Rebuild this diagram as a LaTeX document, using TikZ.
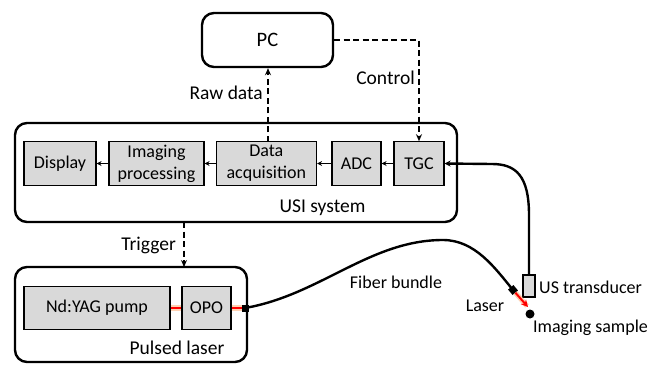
\documentclass[tikz,border=0pt]{standalone}
\usepackage{fontspec}
\setmainfont{Carlito}
\usetikzlibrary{arrows.meta,shapes.geometric}
\definecolor{boxgray}{HTML}{D9D9D9}
\definecolor{glow}{HTML}{FFB27F}
\tikzset{
  bigbox/.style={draw, line width=2.4pt, rounded corners=12pt},
  smallbox/.style={draw, fill=boxgray, line width=1.1pt, inner sep=0pt, align=center, font=\fontsize{18}{22}\selectfont},
  lbl/.style={font=\fontsize{19.5}{23}\selectfont, inner sep=0pt},
  slbl/.style={font=\fontsize{18}{22}\selectfont, inner sep=0pt},
  flow/.style={line width=1pt, -{Stealth[length=5pt,width=5pt]}},
  dashline/.style={line width=2pt, dash pattern=on 6pt off 3.5pt},
  cable/.style={line width=2.4pt},
  redbeam/.style={line width=2.2pt, red},
  glowbeam/.style={line width=6pt, glow, opacity=0.6},
}
\begin{document}
\begin{tikzpicture}[x=1pt,y=-1pt]
\useasboundingbox (0,0) rectangle (649,365);
% big boxes
\node[bigbox, minimum width=131pt, minimum height=54pt, font=\fontsize{20.5}{24}\selectfont] (pc) at (267.5,40) {PC};
\node[bigbox, minimum width=442pt, minimum height=99pt] (usi) at (236,172.5) {};
\node[bigbox, minimum width=232pt, minimum height=95pt] (pl) at (131,314.5) {};
\node[lbl, anchor=center] (usilbl) at (322.5,208) {USI system};
\node[lbl, anchor=center] (pllbl) at (177,348) {Pulsed laser};
% small boxes
\node[smallbox, minimum width=72pt, minimum height=43.5pt] (disp) at (60,163.5) {Display};
\node[smallbox, minimum width=95pt, minimum height=43.5pt] (imp) at (156.5,163.5) {Imaging\\processing};
\node[smallbox, minimum width=100.5pt, minimum height=43.5pt] (daq) at (266.3,163.5) {Data\\acquisition};
\node[smallbox, minimum width=49pt, minimum height=43.5pt] (adc) at (356.5,163.5) {ADC};
\node[smallbox, minimum width=50pt, minimum height=43.5pt] (tgc) at (419,163.5) {TGC};
\node[smallbox, minimum width=146pt, minimum height=42.5pt] (nd) at (97,308) {Nd:YAG pump};
\node[smallbox, minimum width=49pt, minimum height=42.5pt] (opo) at (206.5,308) {OPO};
% flow arrows
\draw[flow] (tgc.west) -- (adc.east);
\draw[flow] (adc.west) -- (daq.east);
\draw[flow] (daq.west) -- (imp.east);
\draw[flow] (imp.west) -- (disp.east);
% dashed connections
\coordinate (rawtop) at (268,67);
\draw[dashline, -{Stealth[length=7pt,width=6pt]}] (268,141.75) -- (pc.south -| rawtop);
\node[lbl, anchor=east] (rawlbl) at (263,93) {Raw data};
\coordinate (ctrlc) at (419,40);
\draw[dashline, -{Stealth[length=7pt,width=6pt]}] (pc.east) -- (ctrlc) -- (tgc.north);
\node[lbl, anchor=east] (ctrllbl) at (415,78) {Control};
\draw[dashline, -{Stealth[length=7pt,width=6pt]}] (184,222) -- (184,267);
\node[lbl, anchor=east] (triglbl) at (176,245) {Trigger};
% transducer
\node[draw, fill=boxgray, line width=1.1pt, minimum width=12pt, minimum height=22pt, inner sep=0pt] (tr) at (529,286) {};
\node[slbl, anchor=west] (trlbl) at (539,287) {US transducer};
\draw[cable, -{Stealth[length=6pt,width=6pt]}] (tr.north) -- (529,215) .. controls (529,176) and (516,164) .. (492,164) -- (tgc.east);
% laser beams
\draw[glowbeam] (nd.east) -- (opo.west);
\draw[redbeam] (nd.east) -- (opo.west);
\coordinate (plout) at (245,308);
\draw[glowbeam] (opo.east) -- (plout);
\draw[redbeam] (opo.east) -- (plout);
% fiber
\coordinate (fend) at (513,290);
\draw[cable] (plout) .. controls (320,295) and (370,240) .. (443,240) .. controls (475,240) and (495,268) .. (fend);
\node[fill=black, minimum size=7pt, inner sep=0pt] (sq1) at (plout) {};
\node[fill=black, minimum size=7pt, inner sep=0pt, rotate=40] (sq2) at (fend) {};
\node[slbl, anchor=center] (fiblbl) at (396,282) {Fiber bundle};
% laser to sample
\node[circle, fill=black, minimum size=9pt, inner sep=0pt] (sample) at (530,314) {};
\draw[line width=5pt, glow, opacity=0.6] (sq2) -- (527,306);
\draw[line width=2pt, red, -{Stealth[length=7pt,width=7pt]}] (sq2) -- (528,307);
\node[slbl, anchor=center] (laserlbl) at (485,306) {Laser};
\node[slbl, anchor=west] (samplbl) at (533,328) {Imaging sample};
\end{tikzpicture}
\end{document}
